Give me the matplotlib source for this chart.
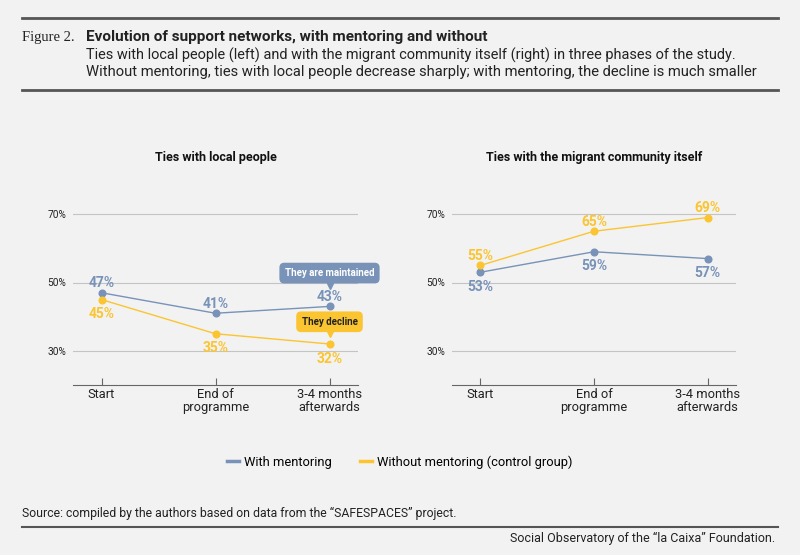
import matplotlib.pyplot as plt
import matplotlib.transforms as mtrans
from matplotlib.lines import Line2D

plt.rcParams['font.family'] = ['Roboto', 'DejaVu Sans']

BG = '#f2f2f2'
BLUE = '#7892b8'
YELLOW = '#fbc531'
DARK = '#222222'
GRID = '#c4c4c4'

phases = ['Start', 'End of\nprogramme', '3-4 months\nafterwards']
panel_titles = ['Ties with local people', 'Ties with the migrant community itself']
local_with = [47, 41, 43]
local_without = [45, 35, 32]
migrant_with = [53, 59, 57]
migrant_without = [55, 65, 69]
y_ticks = [30, 50, 70]

fig = plt.figure(figsize=(8, 5.55), dpi=100)
fig.patch.set_facecolor(BG)

# header
fig.add_artist(Line2D([22/800, 778/800], [1-18/555]*2, color='#555555', lw=2))
fig.add_artist(Line2D([22/800, 778/800], [1-90/555]*2, color='#555555', lw=2))
fig.text(22/800, 1-37/555, 'Figure 2.', family=['Liberation Serif', 'DejaVu Serif'],
         fontsize=10.5, color=DARK, va='center')
fig.text(86/800, 1-37/555, 'Evolution of support networks, with mentoring and without',
         fontsize=11, fontweight='bold', color=DARK, va='center')
fig.text(86/800, 1-55/555, 'Ties with local people (left) and with the migrant community itself (right) in three phases of the study.',
         fontsize=10.45, color=DARK, va='center')
fig.text(86/800, 1-72/555, 'Without mentoring, ties with local people decrease sharply; with mentoring, the decline is much smaller',
         fontsize=10.65, color=DARK, va='center')

# footer
fig.text(22/800, 1-513/555, 'Source: compiled by the authors based on data from the \u201cSAFESPACES\u201d project.',
         fontsize=8.8, color=DARK, va='center')
fig.add_artist(Line2D([22/800, 778/800], [1-527/555]*2, color='#555555', lw=1.5))
fig.text(775/800, 1-538/555, 'Social Observatory of the \u201cla Caixa\u201d Foundation.',
         fontsize=9, color=DARK, va='center', ha='right')


def panel(rect, title, with_vals, without_vals, blue_above):
    ax = fig.add_axes(rect)
    ax.set_facecolor(BG)
    x = list(range(len(phases)))
    ax.plot(x, with_vals, color=BLUE, lw=1, marker='o', ms=4.8, zorder=3)
    ax.plot(x, without_vals, color=YELLOW, lw=1, marker='o', ms=4.8, zorder=3)
    up, down = 7, -10.5
    for xi, w, wo in zip(x, with_vals, without_vals):
        ob, oy = (up, down) if blue_above else (down, up)
        ax.annotate(f'{w}%', (xi, w), xytext=(0, ob), textcoords='offset points',
                    ha='center', va='center', color=BLUE, fontsize=10, fontweight='bold')
        ax.annotate(f'{wo}%', (xi, wo), xytext=(0, oy), textcoords='offset points',
                    ha='center', va='center', color=YELLOW, fontsize=10, fontweight='bold')
    ax.set_xlim(-0.25, 2.25)
    ax.set_ylim(20, 80)
    ax.set_yticks(y_ticks)
    ax.set_yticklabels([f'{t}%' for t in y_ticks], fontsize=7.3, color=DARK)
    ax.grid(axis='y', color=GRID, lw=0.8)
    ax.set_axisbelow(True)
    ax.set_xticks(x)
    ax.set_xticklabels(phases, fontsize=9.3, color=DARK, linespacing=1.05)
    ax.tick_params(axis='x', length=5, direction='in', color='#666666', pad=2)
    ax.tick_params(axis='y', length=0, pad=5)
    for s in ['top', 'right', 'left']:
        ax.spines[s].set_visible(False)
    ax.spines['bottom'].set_color('#666666')
    ax.spines['bottom'].set_linewidth(0.8)
    ax.set_title(title, fontsize=9, fontweight='bold', color='#111111', y=1 + 11/205)
    return ax


ax1 = panel([73/800, 1-385/555, 285/800, 205/555], panel_titles[0], local_with, local_without, True)
ax2 = panel([452/800, 1-385/555, 284/800, 205/555], panel_titles[1], migrant_with, migrant_without, False)

# callouts on the left panel: box, then a small pointer under it
callouts = [('They are maintained', local_with[2], BLUE, 'white', 24, 15),
            ('They decline', local_without[2], YELLOW, DARK, 16, 7)]
for txt, val, col, tcol, box_off, tip_off in callouts:
    ax1.annotate(txt, (2, val), xytext=(0, box_off), textcoords='offset points',
                 ha='center', va='center', fontsize=7, fontweight='bold', color=tcol,
                 bbox=dict(boxstyle='round,pad=0.55,rounding_size=0.5', fc=col, ec='none'),
                 zorder=5)
    tr = ax1.transData + mtrans.ScaledTranslation(0, tip_off/72, fig.dpi_scale_trans)
    ax1.plot([2], [val], marker='v', ms=5, color=col, transform=tr, linestyle='none', zorder=4)

handles = [Line2D([], [], color=BLUE, lw=2.5), Line2D([], [], color=YELLOW, lw=2.5)]
fig.legend(handles, ['With mentoring', 'Without mentoring (control group)'],
           loc='center', bbox_to_anchor=(0.5, 1-462/555), ncol=2, frameon=False,
           fontsize=9.3, handlelength=0.9, handletextpad=0.4, columnspacing=2.2)

fig.savefig('out.png', dpi=100, facecolor=BG)
